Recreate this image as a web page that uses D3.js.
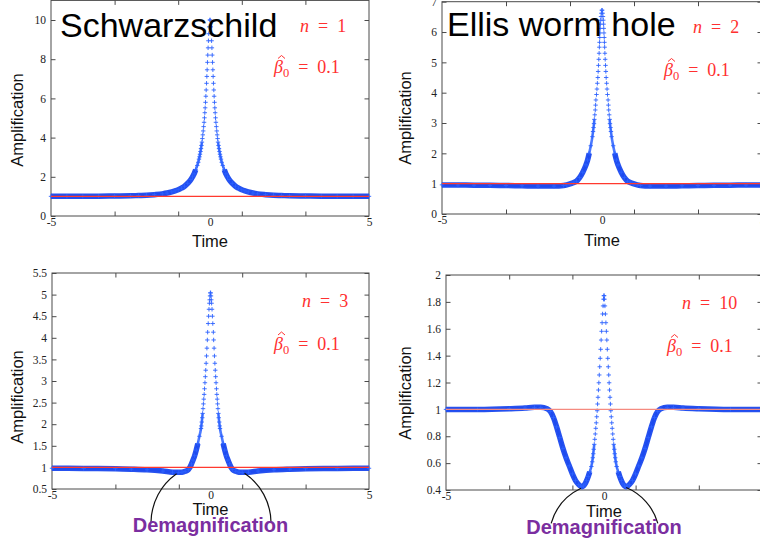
<!DOCTYPE html>
<html><head><meta charset="utf-8">
<script src="https://cdn.jsdelivr.net/npm/d3@7"></script>
<style>body{margin:0;background:#fff}svg{display:block}</style>
</head><body>
<svg id="c" width="760" height="546"></svg>
<script>
// ---------- data ----------
const xTickLabels = [-5, 0, 5];
const xTickMarks = [-3, -1, 1, 3];
const refLevel = 1;

const timeN1 = [-5.0,-4.5,-4.0,-3.5,-3.0,-2.5,-2.25,-2.0,-1.75,-1.5,-1.35,-1.2,-1.1,-1.0,-0.9,-0.8,-0.7,-0.6,-0.55,-0.5,-0.45,-0.4,-0.37,-0.346,-0.33,-0.315,-0.299,-0.283,-0.268,-0.253,-0.24,-0.226,-0.213,-0.2,-0.186,-0.174,-0.163,-0.152,-0.141,-0.13,-0.12,-0.109,-0.099,-0.09,-0.08,-0.07,-0.06,-0.05,-0.04,-0.025,-0.005,
  0.005,0.025,0.04,0.05,0.06,0.07,0.08,0.09,0.099,0.109,0.12,0.13,0.141,0.152,0.163,0.174,0.186,0.2,0.213,0.226,0.24,0.253,0.268,0.283,0.299,0.315,0.33,0.346,0.37,0.4,0.45,0.5,0.55,0.6,0.7,0.8,0.9,1.0,1.1,1.2,1.35,1.5,1.75,2.0,2.25,2.5,3.0,3.5,4.0,4.5,5.0];
const ampN1 = [1.003,1.004,1.006,1.01,1.02,1.03,1.045,1.06,1.09,1.13,1.17,1.23,1.28,1.34,1.42,1.52,1.67,1.86,2.0,2.15,2.36,2.58,2.74,2.90,3.02,3.15,3.29,3.44,3.60,3.77,3.95,4.14,4.34,4.56,4.78,5.01,5.27,5.52,5.80,6.11,6.43,6.77,7.12,7.46,7.84,8.21,8.58,8.94,9.3,9.65,10.0,
  10.0,9.65,9.3,8.94,8.58,8.21,7.84,7.46,7.12,6.77,6.43,6.11,5.80,5.52,5.27,5.01,4.78,4.56,4.34,4.14,3.95,3.77,3.60,3.44,3.29,3.15,3.02,2.90,2.74,2.58,2.36,2.15,2.0,1.86,1.67,1.52,1.42,1.34,1.28,1.23,1.17,1.13,1.09,1.06,1.045,1.03,1.02,1.01,1.006,1.004,1.003];

const timeN2 = [-5.0,-4.5,-4.0,-3.5,-3.0,-2.5,-2.0,-1.5,-1.2,-1.1,-1.0,-0.9,-0.8,-0.7,-0.6,-0.5,-0.45,-0.4,-0.35,-0.3,-0.28,-0.265,-0.25,-0.24,-0.225,-0.21,-0.2,-0.19,-0.172,-0.158,-0.145,-0.13,-0.12,-0.11,-0.10,-0.09,-0.083,-0.076,-0.07,-0.062,-0.055,-0.05,-0.04,-0.03,-0.02,-0.005,
  0.005,0.02,0.03,0.04,0.05,0.055,0.062,0.07,0.076,0.083,0.09,0.10,0.11,0.12,0.13,0.145,0.158,0.172,0.19,0.2,0.21,0.225,0.24,0.25,0.265,0.28,0.3,0.35,0.4,0.45,0.5,0.6,0.7,0.8,0.9,1.0,1.1,1.2,1.5,2.0,2.5,3.0,3.5,4.0,4.5,5.0];
const ampN2 = [0.96,0.955,0.95,0.945,0.94,0.93,0.92,0.92,0.94,0.96,0.99,1.03,1.08,1.2,1.38,1.62,1.78,2.0,2.25,2.55,2.72,2.85,2.98,3.12,3.27,3.43,3.59,3.76,3.94,4.12,4.31,4.50,4.70,4.90,5.10,5.30,5.50,5.66,5.82,5.97,6.12,6.26,6.39,6.51,6.62,6.72,
  6.72,6.62,6.51,6.39,6.26,6.12,5.97,5.82,5.66,5.50,5.30,5.10,4.90,4.70,4.50,4.31,4.12,3.94,3.76,3.59,3.43,3.27,3.12,2.98,2.85,2.72,2.55,2.25,2.0,1.78,1.62,1.38,1.2,1.08,1.03,0.99,0.96,0.94,0.92,0.92,0.93,0.94,0.945,0.95,0.955,0.96];

const timeN3 = [-5.0,-4.0,-3.0,-2.5,-2.0,-1.5,-1.2,-1.0,-0.9,-0.8,-0.7,-0.65,-0.6,-0.55,-0.5,-0.45,-0.4,-0.35,-0.3,-0.29,-0.275,-0.26,-0.248,-0.236,-0.224,-0.212,-0.2,-0.188,-0.175,-0.163,-0.15,-0.138,-0.125,-0.113,-0.1,-0.09,-0.072,-0.06,-0.048,-0.035,-0.025,-0.015,-0.005,
  0.005,0.015,0.025,0.035,0.048,0.06,0.072,0.09,0.1,0.113,0.125,0.138,0.15,0.163,0.175,0.188,0.2,0.212,0.224,0.236,0.248,0.26,0.275,0.29,0.3,0.35,0.4,0.45,0.5,0.55,0.6,0.65,0.7,0.8,0.9,1.0,1.2,1.5,2.0,2.5,3.0,4.0,5.0];
const ampN3 = [0.98,0.975,0.97,0.96,0.945,0.915,0.89,0.885,0.89,0.91,0.95,1.0,1.08,1.17,1.27,1.40,1.55,1.72,1.90,1.96,2.05,2.15,2.25,2.36,2.47,2.58,2.69,2.82,2.96,3.10,3.25,3.41,3.58,3.76,3.95,4.13,4.33,4.50,4.66,4.80,4.88,4.97,5.04,
  5.04,4.97,4.88,4.80,4.66,4.50,4.33,4.13,3.95,3.76,3.58,3.41,3.25,3.10,2.96,2.82,2.69,2.58,2.47,2.36,2.25,2.15,2.05,1.96,1.90,1.72,1.55,1.40,1.27,1.17,1.08,1.0,0.95,0.91,0.89,0.885,0.89,0.915,0.945,0.96,0.97,0.975,0.98];

const timeN10 = [-5.0,-4.0,-3.0,-2.5,-2.2,-2.0,-1.8,-1.7,-1.6,-1.5,-1.4,-1.3,-1.2,-1.1,-1.0,-0.9,-0.8,-0.75,-0.7,-0.65,-0.6,-0.55,-0.5,-0.45,-0.40,-0.372,-0.355,-0.34,-0.325,-0.308,-0.292,-0.276,-0.26,-0.245,-0.23,-0.216,-0.203,-0.19,-0.176,-0.163,-0.15,-0.135,-0.12,-0.105,-0.09,-0.075,-0.06,-0.045,-0.03,-0.015,-0.005,
  0.005,0.015,0.03,0.045,0.06,0.075,0.09,0.105,0.12,0.135,0.15,0.163,0.176,0.19,0.203,0.216,0.23,0.245,0.26,0.276,0.292,0.308,0.325,0.34,0.355,0.372,0.40,0.45,0.5,0.55,0.6,0.65,0.7,0.75,0.8,0.9,1.0,1.1,1.2,1.3,1.4,1.5,1.6,1.7,1.8,2.0,2.2,2.5,3.0,4.0,5.0];
const ampN10 = [1.0,1.0,1.005,1.01,1.015,1.015,1.005,0.985,0.94,0.87,0.79,0.71,0.64,0.58,0.52,0.47,0.44,0.43,0.425,0.43,0.445,0.47,0.50,0.535,0.575,0.61,0.64,0.67,0.703,0.74,0.777,0.817,0.859,0.90,0.945,0.99,1.04,1.09,1.144,1.198,1.256,1.317,1.38,1.447,1.516,1.581,1.645,1.71,1.77,1.82,1.846,
  1.846,1.82,1.77,1.71,1.645,1.581,1.516,1.447,1.38,1.317,1.256,1.198,1.144,1.09,1.04,0.99,0.945,0.90,0.859,0.817,0.777,0.74,0.703,0.67,0.64,0.61,0.575,0.535,0.50,0.47,0.445,0.43,0.425,0.43,0.44,0.47,0.52,0.58,0.64,0.71,0.79,0.87,0.94,0.985,1.005,1.015,1.015,1.01,1.005,1.0,1.0];

const yTicksN1 = [0, 2, 4, 6, 8, 10];
const yTicksN2 = [0, 1, 2, 3, 4, 5, 6, 7];
const yTicksN3 = [0.5, 1, 1.5, 2, 2.5, 3, 3.5, 4, 4.5, 5, 5.5];
const yTicksN10 = [0.4, 0.6, 0.8, 1, 1.2, 1.4, 1.6, 1.8, 2];

const titles = ["Schwarzschild", "Ellis worm hole", "", ""];
const nLabels = ["1", "2", "3", "10"];
const betaLabel = "0.1";
const demagLabel = "Demagnification";

// ---------- layout ----------
const panels = [
  {time: timeN1, amp: ampN1, yDomain: [0, 11], yTicks: yTicksN1, thinCut: 0.25, cut: 0.45,
   left: 51, right: 369, top: 0.4, bottom: 216, timeY: 247, ampX: 23, ampY: 120,
   title: titles[0], titleX: 60, titleY: 37, n: nLabels[0], nX: 300, nY: 32, bX: 274, bY: 73, red: "#ff3a2e"},
  {time: timeN2, amp: ampN2, yDomain: [0, 7], yTicks: yTicksN2, thinCut: 0.24, cut: 0.4,
   left: 442, right: 762, top: 1.7, bottom: 214, timeY: 245.5, ampX: 411, ampY: 118,
   title: titles[1], titleX: 447, titleY: 36, n: nLabels[1], nX: 693, nY: 32.5, bX: 664, bY: 76, red: "#ff3a2e"},
  {time: timeN3, amp: ampN3, yDomain: [0.5, 5.5], yTicks: yTicksN3, thinCut: 0.24, cut: 0.4,
   left: 52, right: 369, top: 273, bottom: 489, timeY: 515, ampX: 23, ampY: 397,
   n: nLabels[2], nX: 302, nY: 307, bX: 274, bY: 349.5, red: "#ff3a2e",
   demag: {cy: 34, r: 60, arcs: [[181, 235], [304, 359]], textY: 532}},
  {time: timeN10, amp: ampN10, yDomain: [0.4, 2], yTicks: yTicksN10, thinCut: 0.3, cut: 0.45,
   left: 446, right: 762, top: 275, bottom: 490, timeY: 517, ampX: 411, ampY: 393,
   n: nLabels[3], nX: 682, nY: 308.5, bX: 667, bY: 352, red: "#f58a80",
   demag: {cy: 48.6, r: 55.5, arcs: [[196, 245], [293, 344]], textY: 534}}
];

const BAND = "#1a48ee";
const MARK = "#2d63ff";
const AXIS = "#4a4a4a";
const RED_TEXT = "#ff3030";
const PURPLE = "#7b2ea0";
const SANS = "'Liberation Sans', Arial, sans-serif";
const SERIF = "'Liberation Serif', 'Times New Roman', serif";

const svg = d3.select("#c");
svg.append("rect").attr("width", 760).attr("height", 546).attr("fill", "#fff");

panels.forEach(p => {
  const x = d3.scaleLinear().domain([-5, 5]).range([p.left, p.right]);
  const y = d3.scaleLinear().domain(p.yDomain).range([p.bottom, p.top]);
  const g = svg.append("g");
  const pts = p.time.map((t, i) => ({t, a: p.amp[i]}));

  // box
  g.append("rect").attr("x", p.left).attr("y", p.top)
    .attr("width", p.right - p.left).attr("height", p.bottom - p.top)
    .attr("fill", "none").attr("stroke", AXIS).attr("stroke-width", 1);

  const styleAxis = s => {
    s.select(".domain").remove();
    s.selectAll(".tick line").attr("stroke", AXIS);
    s.selectAll(".tick text").attr("fill", "#222").attr("font-family", SERIF).attr("font-size", 11.5);
  };
  g.append("g").attr("transform", `translate(${p.left},0)`)
    .call(d3.axisLeft(y).tickValues(p.yTicks).tickSize(-4.5).tickPadding(5).tickFormat(d => String(d)))
    .call(styleAxis);
  g.append("g").attr("transform", `translate(${p.right},0)`)
    .call(d3.axisRight(y).tickValues(p.yTicks).tickSize(-4.5).tickFormat(""))
    .call(styleAxis);
  g.append("g").attr("transform", `translate(0,${p.bottom})`)
    .call(d3.axisBottom(x).tickValues(xTickMarks).tickSize(-4.5).tickFormat(""))
    .call(styleAxis);
  g.append("g").attr("transform", `translate(0,${p.top})`)
    .call(d3.axisTop(x).tickValues(xTickMarks).tickSize(-4.5).tickFormat(""))
    .call(styleAxis);
  g.append("g").attr("transform", `translate(0,${p.bottom})`)
    .call(d3.axisBottom(x).tickValues(xTickLabels).tickSize(0).tickPadding(2).tickFormat(d => String(d)))
    .call(styleAxis);

  // blue band made by densely packed markers: thin where they just touch, thick where they overlap
  const mk = cut => d3.line().defined(d => Math.abs(d.t) >= cut)
    .x(d => x(d.t)).y(d => y(d.a)).curve(d3.curveMonotoneX);
  g.append("path").datum(pts).attr("d", mk(p.thinCut))
    .attr("fill", "none").attr("stroke", MARK).attr("stroke-width", 2.6).attr("stroke-opacity", 0.85);
  g.append("path").datum(pts).attr("d", mk(p.cut))
    .attr("fill", "none").attr("stroke", BAND).attr("stroke-width", 5.5).attr("stroke-opacity", 0.95);

  // + markers
  g.append("g").selectAll("path").data(pts).join("path")
    .attr("d", "M-2.2,0H2.2M0,-2.2V2.2")
    .attr("transform", d => `translate(${x(d.t)},${y(d.a)})`)
    .attr("fill", "none").attr("stroke", MARK).attr("stroke-width", 1).attr("stroke-opacity", 0.9);

  // reference line at 1
  g.append("path").datum([{t: -5, a: refLevel}, {t: 5, a: refLevel}])
    .attr("d", d3.line().x(d => x(d.t)).y(d => y(d.a)))
    .attr("stroke", p.red).attr("stroke-width", 1.1).attr("fill", "none");

  // axis titles
  g.append("text").attr("x", x(0)).attr("y", p.timeY).attr("text-anchor", "middle")
    .attr("font-family", SANS).attr("font-size", 16.5).attr("fill", "#111").text("Time");
  g.append("text").attr("transform", `translate(${p.ampX},${p.ampY}) rotate(-90)`)
    .attr("text-anchor", "middle").attr("font-family", SANS).attr("font-size", 16.5)
    .attr("fill", "#111").text("Amplification");

  // title
  if (p.title) {
    g.append("text").attr("x", p.titleX).attr("y", p.titleY)
      .attr("font-family", SANS).attr("font-size", 34).attr("fill", "#000").text(p.title);
  }

  // n = ...
  const nt = g.append("text").attr("x", p.nX).attr("y", p.nY)
    .attr("font-family", SERIF).attr("font-size", 18).attr("fill", RED_TEXT);
  nt.append("tspan").attr("font-style", "italic").text("n");
  nt.append("tspan").text("\u2002=\u2002" + p.n);

  // beta_0 = 0.1, with a hat accent over beta
  const bt = g.append("text").attr("x", p.bX).attr("y", p.bY)
    .attr("font-family", SERIF).attr("font-size", 18).attr("fill", RED_TEXT);
  bt.append("tspan").attr("font-style", "italic").text("\u03B2");
  bt.append("tspan").attr("font-size", 12.5).attr("dy", 4).text("0");
  bt.append("tspan").attr("dy", -4).text("\u2002=\u2002" + betaLabel);
  g.append("path")
    .attr("d", `M${p.bX + 4},${p.bY - 14.5}L${p.bX + 7.5},${p.bY - 17.5}L${p.bX + 11},${p.bY - 14.5}`)
    .attr("fill", "none").attr("stroke", RED_TEXT).attr("stroke-width", 1);

  // demagnification annotation
  if (p.demag) {
    const cx = x(0) + 0.5, cy = p.bottom + p.demag.cy;
    p.demag.arcs.forEach(([a0, a1]) => {
      const path = d3.path();
      const r0 = a0 * Math.PI / 180, r1 = a1 * Math.PI / 180;
      path.moveTo(cx + p.demag.r * Math.cos(r0), cy + p.demag.r * Math.sin(r0));
      path.arc(cx, cy, p.demag.r, r0, r1, false);
      g.append("path").attr("d", path.toString()).attr("fill", "none")
        .attr("stroke", "#111").attr("stroke-width", 1.2);
    });
    g.append("text").attr("x", x(0)).attr("y", p.demag.textY).attr("text-anchor", "middle")
      .attr("font-family", SANS).attr("font-weight", "bold").attr("font-size", 20)
      .attr("fill", PURPLE).text(demagLabel);
  }
});
</script>
</body></html>
